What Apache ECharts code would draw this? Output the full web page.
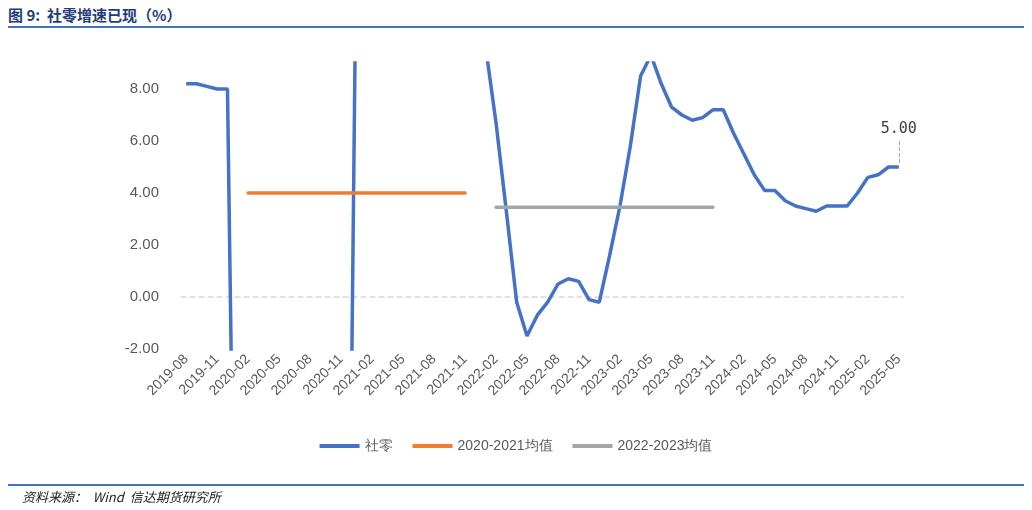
<!DOCTYPE html>
<html><head><meta charset="utf-8">
<script src="https://cdn.jsdelivr.net/npm/echarts@6/dist/echarts.min.js"></script>
<style>body{margin:0;background:#fff}#c{width:1032px;height:510px}
.t{position:absolute;left:8px;top:4px;font:bold 15px "Noto Sans CJK SC";color:#1f3d7a}
.l1{position:absolute;left:8px;right:8px;top:26px;border-top:2px solid #4472c4}
.l2{position:absolute;left:8px;right:8px;top:484px;border-top:2px solid #4472c4}
.s{position:absolute;left:22px;top:487px;font:italic 13px "Noto Sans CJK SC";color:#222}
</style></head><body>
<div class="t">图 9:&nbsp; 社零增速已现（%）</div><div class="l1"></div>
<div id="c"></div><div class="l2"></div>
<div class="s">资料来源：&nbsp;&nbsp;Wind&nbsp; 信达期货研究所</div>
<script>
const months=[];for(let y=2019,m=8;y<2025||(y===2025&&m<=5);){months.push(y+'-'+String(m).padStart(2,'0'));m++;if(m>12){m=1;y++;}}
const retail=[8.2,8.2,8.1,8.0,8.0,
-20.5,-20.5,-19.0,-16.2,-13.5,-11.4,-9.9,-8.6,-7.2,-5.9,-4.8,-3.9,
33.8,33.8,33.9,29.6,25.7,23.0,20.7,18.1,16.4,14.9,13.7,12.5,
9.6,6.7,3.3,-0.2,-1.5,-0.7,-0.2,0.5,0.7,0.6,-0.1,-0.2,
1.6,3.5,5.8,8.5,9.3,8.2,7.3,7.0,6.8,6.9,7.2,7.2,
6.3,5.5,4.7,4.1,4.1,3.7,3.5,3.4,3.3,3.5,3.5,3.5,
4.0,4.6,4.7,5.0,5.0];
const avg2021=4.0, avg2223=3.45;
const orange=months.map((m,i)=>i>=6&&i<=27?avg2021:null);
const grey=months.map((m,i)=>i>=30&&i<=51?avg2223:null);
const lastM=months[months.length-1], lastV=retail[retail.length-1];
const c=echarts.init(document.getElementById('c'));
c.setOption({animation:false,
grid:{left:181,right:128,top:63,bottom:161},
legend:{bottom:52,left:'center',itemWidth:40,itemHeight:4,itemGap:20,icon:'rect',textStyle:{color:'#595959',fontSize:14},data:['社零','2020-2021均值','2022-2023均值']},
xAxis:{type:'category',data:months,boundaryGap:true,axisLine:{show:false},axisTick:{show:false},
axisLabel:{interval:2,rotate:45,color:'#595959',fontSize:14,margin:8}},
yAxis:{type:'value',min:-2,max:9,interval:2,axisLine:{show:false},axisTick:{show:false},
splitLine:{show:false},axisLabel:{color:'#595959',fontSize:15,margin:22,showMaxLabel:false,formatter:v=>v%2===0?v.toFixed(2):''}},
series:[
{name:'社零',type:'line',data:retail,symbol:'none',lineStyle:{width:3.5,color:'#4472c4'},itemStyle:{color:'#4472c4'},clip:true,
 markPoint:{symbol:'circle',symbolSize:1,itemStyle:{color:'rgba(0,0,0,0)'},label:{show:true,position:'top',distance:30,formatter:lastV.toFixed(2),fontSize:15,color:'#404040',fontFamily:'DejaVu Sans Mono'},data:[{coord:[lastM,lastV]}]},
 markLine:{silent:true,symbol:'none',label:{show:false},z:1,data:[
  [{yAxis:0,x:'17.5%',lineStyle:{color:'#d9d9d9',width:1.5}},{yAxis:0,x:'87.6%'}],
  [{coord:[lastM,lastV+0.15],lineStyle:{color:'#a6a6a6',width:1}},{coord:[lastM,lastV+1.0]}]
 ]}},
{name:'2020-2021均值',type:'line',data:orange,symbol:'none',lineStyle:{width:3.5,color:'#ed7d31',cap:'round'},itemStyle:{color:'#ed7d31'}},
{name:'2022-2023均值',type:'line',data:grey,symbol:'none',lineStyle:{width:3.5,color:'#a5a5a5',cap:'round'},itemStyle:{color:'#a5a5a5'}}
]});
</script></body></html>
